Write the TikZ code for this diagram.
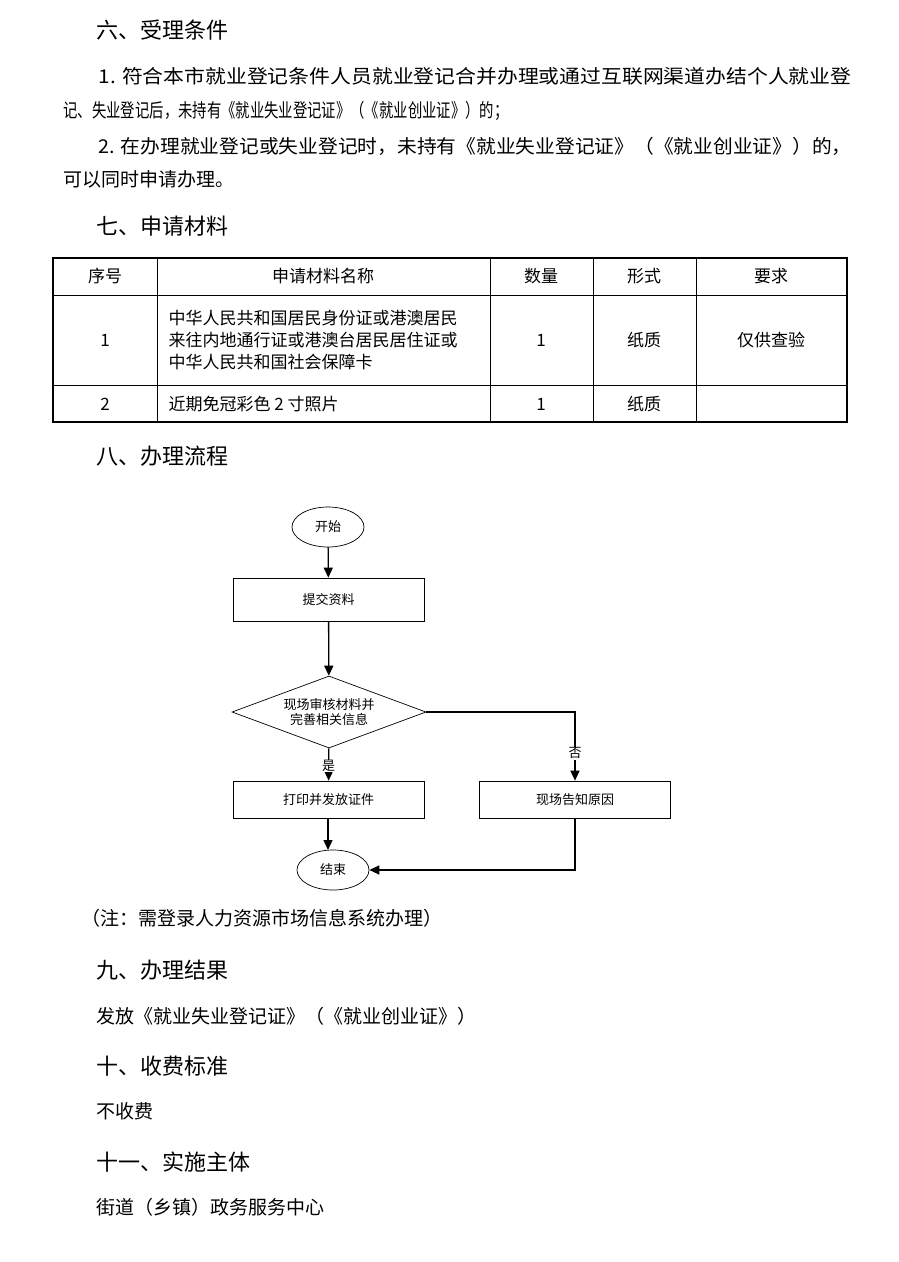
\documentclass[tikz,border=0pt]{standalone}
\usepackage{fontspec}
\usepackage{graphicx}
\setmainfont{Noto Sans CJK SC}
\usetikzlibrary{shapes.geometric,arrows.meta}
\begin{document}
\begin{tikzpicture}[x=1pt,y=-1pt,
  h/.style={anchor=west,font=\fontsize{22}{22}\selectfont},
  p/.style={anchor=west,font=\fontsize{19}{19}\selectfont},
  tb/.style={font=\fontsize{17}{17}\selectfont},
  fc/.style={font=\fontsize{13}{13}\selectfont},
  bx/.style={draw,line width=0.7pt,minimum width=191pt,minimum height=40pt,fc},
  el/.style={draw,ellipse,line width=0.7pt,minimum width=72pt,minimum height=40pt,fc},
  ar/.style={line width=1.3pt,-{Triangle[length=10pt,width=9pt]}}]
\useasboundingbox (0,0) rectangle (898,1262);
\fill[white] (0,0) rectangle (898,1262);
\node[h] (h6) at (93,30) {六、受理条件};
\node[p] (l1) at (95,76) {\resizebox{753pt}{\height}{1. 符合本市就业登记条件人员就业登记合并办理或通过互联网渠道办结个人就业登}};
\node[p] (l2) at (60,111) {\resizebox{445pt}{\height}{记、失业登记后，未持有《就业失业登记证》（《就业创业证》）的；}};
\node[p] (l3) at (95,146) {\resizebox{753pt}{\height}{2. 在办理就业登记或失业登记时，未持有《就业失业登记证》（《就业创业证》）的，}};
\node[p] (l4) at (60,179) {可以同时申请办理。};
\node[h] (h7) at (93,226) {七、申请材料};
% table
\draw[line width=1.3pt] (53,258) rectangle (847,422);
\draw[line width=0.8pt] (53,295) -- (847,295) (53,385) -- (847,385);
\foreach \x in {157,490,593,696} \draw[line width=0.8pt] (\x,258) -- (\x,422);
\node[tb] (t1) at (105,276) {序号};
\node[tb] (t2) at (323,276) {申请材料名称};
\node[tb] (t3) at (541,276) {数量};
\node[tb] (t4) at (644,276) {形式};
\node[tb] (t5) at (771,276) {要求};
\node[tb] (r1) at (105,340) {1};
\node[tb,anchor=west,align=left] (r1b) at (165,340) {中华人民共和国居民身份证或港澳居民\\[5pt]来往内地通行证或港澳台居民居住证或\\[5pt]中华人民共和国社会保障卡};
\node[tb] (r1c) at (541,340) {1};
\node[tb] (r1d) at (644,340) {纸质};
\node[tb] (r1e) at (771,340) {仅供查验};
\node[tb] (r2) at (105,404) {2};
\node[tb,anchor=west] (r2b) at (165,404) {近期免冠彩色 2 寸照片};
\node[tb] (r2c) at (541,404) {1};
\node[tb] (r2d) at (644,404) {纸质};
\node[h] (h8) at (93,456) {八、办理流程};
% flowchart
\node[el] (s) at (328,527) {开始};
\node[bx,minimum height=43pt] (b1) at (328.5,599.5) {提交资料};
\node[draw,diamond,aspect=2.7,line width=0.7pt,minimum width=194pt,minimum height=72pt,inner sep=0pt,fc,align=center] (d) at (329,712) {现场审核材料并\\[2pt]完善相关信息};
\node[bx,minimum height=37pt] (b2) at (328.5,799.5) {打印并发放证件};
\node[bx,minimum height=37pt] (b3) at (575,799.5) {现场告知原因};
\node[el] (e) at (333,870) {结束};
\coordinate (ein) at (328,850);
\draw[ar] (s) -- (b1);
\draw[ar] (b1) -- (d);
\draw[ar] (d) -- node[fc,pos=0.55,fill=white,inner sep=0pt]{是} (b2);
\draw[ar] (d.east) -| node[fc,pos=0.8,fill=white,inner sep=1pt]{否} (b3.north);
\draw[ar] (b2.south -| ein) -- (ein);
\draw[ar] (b3.south) |- (e.east);
\node[p] (n) at (78,918) {（注：需登录人力资源市场信息系统办理）};
\node[h] (h9) at (93,970) {九、办理结果};
\node[p] (p9) at (93,1016) {发放《就业失业登记证》（《就业创业证》）};
\node[h] (h10) at (93,1066) {十、收费标准};
\node[p] (p10) at (93,1111) {不收费};
\node[h] (h11) at (93,1162) {十一、实施主体};
\node[p] (p11) at (93,1207) {街道（乡镇）政务服务中心};
\end{tikzpicture}
\end{document}
